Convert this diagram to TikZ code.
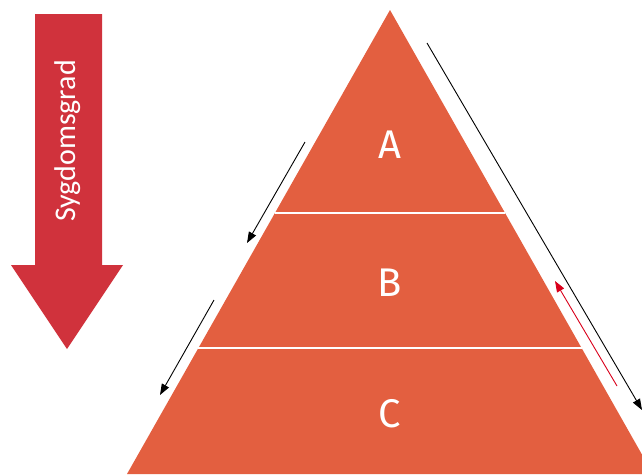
\documentclass[tikz,border=0pt]{standalone}
\usepackage{fontspec}
\setmainfont{Fira Sans}
\newfontfamily\arrowfont{Carlito}
\usetikzlibrary{arrows.meta}
\definecolor{pyrorange}{HTML}{E35F40}
\definecolor{gradred}{HTML}{D0323C}
\definecolor{backred}{HTML}{D9001B}

\begin{document}
\begin{tikzpicture}[x=1pt,y=1pt,
  level/.style={text=white,font=\fontsize{40}{40}\selectfont},
  slide/.style={line width=0.9pt,-{Triangle[length=11pt,width=8pt]}}]
\useasboundingbox (0,0) rectangle (642,-474);
\clip (0,0) rectangle (642,-474);
% big arrow on the left
\fill[gradred] (35,-14) -- (102,-14) -- (102,-265) -- (123,-265) -- (67,-349)
  -- (11,-265) -- (35,-265) -- cycle;
\node[rotate=90,text=white,font=\arrowfont\fontsize{30}{30}\selectfont] (grad) at (68,-141) {Sygdomsgrad};
% pyramid
\coordinate (top) at (390,-10);
\fill[pyrorange] (top) -- (653,-474) -- (127,-474) -- cycle;
\draw[white,line width=2pt] (275,-213) -- (505,-213) (198,-348) -- (582,-348);
\node[level] (A) at (390,-145) {A};
\node[level] (B) at (390,-283) {B};
\node[level] (C) at (390,-414) {C};
% arrows along the sides
\coordinate (l1) at (305,-142); \coordinate (l1e) at (247,-243);
\coordinate (l2) at (214,-300); \coordinate (l2e) at (160,-395);
\coordinate (r1) at (427,-43);  \coordinate (r1e) at (642,-410);
\coordinate (r2) at (617,-386); \coordinate (r2e) at (555,-281);
\draw[slide] (l1) -- (l1e);
\draw[slide] (l2) -- (l2e);
\draw[slide] (r1) -- (r1e);
\draw[slide,backred] (r2) -- (r2e);
\end{tikzpicture}
\end{document}
